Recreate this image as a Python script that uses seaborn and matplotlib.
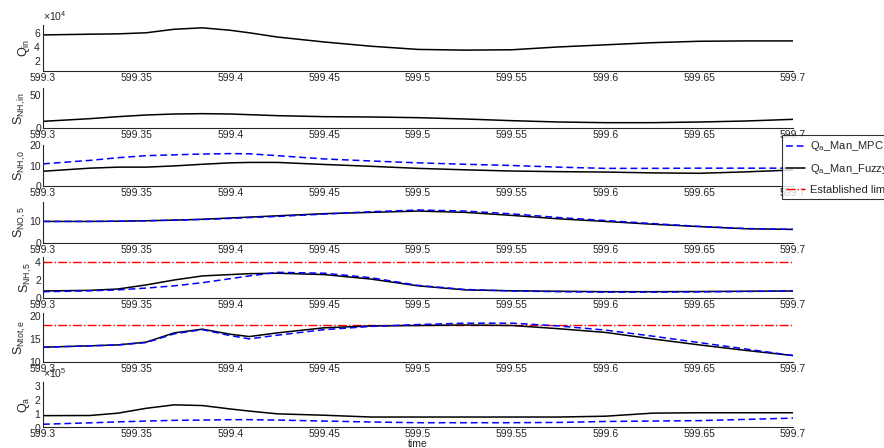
import matplotlib
matplotlib.use("Agg")
import matplotlib.pyplot as plt
import seaborn as sns
import numpy as np
from matplotlib.lines import Line2D

# ---------------- data ----------------
time = [599.30, 599.325, 599.34, 599.355, 599.37, 599.385, 599.40, 599.41, 599.425, 599.45,
        599.475, 599.50, 599.525, 599.55, 599.575, 599.60, 599.625, 599.65, 599.675, 599.70]

q_in = [56000, 57000, 57500, 59000, 64000, 66000, 62500, 59000, 53000, 46000,
        40000, 35500, 34500, 35000, 39000, 42000, 45000, 47000, 47500, 47500]

s_nh_in = [10, 14, 17, 19.5, 21, 21.5, 21, 20, 18.5, 17,
           16.5, 15.5, 13.5, 11, 9, 8, 8, 9, 10.5, 13]

s_nh0_mpc = [10.8, 12.5, 13.8, 14.8, 15.2, 15.6, 15.8, 15.7, 14.8, 13.2,
             12.2, 11.3, 10.6, 10.0, 9.2, 8.6, 8.6, 8.7, 8.7, 8.7]
s_nh0_fuzzy = [7.2, 8.7, 9.2, 9.2, 9.8, 10.6, 11.3, 11.5, 11.5, 10.5,
               9.6, 8.6, 7.9, 7.3, 7.0, 6.8, 6.4, 6.2, 6.9, 7.8]

s_no5_mpc = [10, 10, 10.1, 10.3, 10.6, 10.9, 11.4, 11.8, 12.3, 13.4,
             14.5, 15.3, 14.8, 13.5, 11.8, 10.4, 9.0, 7.7, 6.7, 6.3]
s_no5_fuzzy = [10, 10, 10.1, 10.3, 10.6, 11.0, 11.6, 12.0, 12.6, 13.6,
               14.2, 14.8, 14.2, 12.8, 11.2, 10.0, 8.7, 7.6, 6.6, 6.3]

s_nh5_mpc = [0.7, 0.8, 0.9, 1.1, 1.35, 1.7, 2.15, 2.45, 2.85, 2.75,
             2.25, 1.4, 0.95, 0.78, 0.7, 0.65, 0.65, 0.68, 0.72, 0.8]
s_nh5_fuzzy = [0.78, 0.85, 1.0, 1.45, 2.0, 2.45, 2.6, 2.7, 2.75, 2.6,
               2.1, 1.35, 0.9, 0.8, 0.75, 0.7, 0.7, 0.72, 0.75, 0.78]
s_nh5_limit = 4

s_ntot_mpc = [13.2, 13.5, 13.7, 14.2, 16.1, 17.0, 15.7, 15.0, 15.8, 17.0,
              17.7, 18.1, 18.4, 18.4, 17.8, 16.9, 15.6, 14.2, 12.8, 11.4]
s_ntot_fuzzy = [13.2, 13.5, 13.7, 14.3, 16.3, 17.1, 16.0, 15.5, 16.3, 17.4,
                17.8, 17.9, 18.0, 17.9, 17.2, 16.4, 15.0, 13.7, 12.5, 11.4]
s_ntot_limit = 18

q_a_mpc = [20000, 30000, 37000, 43000, 48000, 50000, 53000, 53000, 50000, 43000,
           36000, 31000, 31000, 31000, 33000, 40000, 43000, 46000, 55000, 64000]
q_a_fuzzy = [82000, 83000, 100000, 135000, 160000, 155000, 130000, 115000, 95000, 85000,
             72000, 72000, 72000, 72000, 72000, 78000, 100000, 103000, 103000, 103000]

xticks = [599.3, 599.35, 599.4, 599.45, 599.5, 599.55, 599.6, 599.65, 599.7]
xticklabels = ["599.3", "599.35", "599.4", "599.45", "599.5", "599.55", "599.6", "599.65", "599.7"]

ylabels = [r"Q$_{\rm in}$", r"S$_{\rm NH,in}$", r"S$_{\rm NH,0}$", r"S$_{\rm NO,5}$",
           r"S$_{\rm NH,5}$", r"S$_{\rm Ntot,e}$", r"Q$_{\rm a}$"]
yticks = [[20000, 40000, 60000], [0, 50], [0, 10, 20], [0, 10], [0, 2, 4], [10, 15, 20],
          [0, 100000, 200000, 300000]]
ylims = [(5000, 70000), (0, 60), (0, 20), (0, 19), (0, 4.55), (10, 20.6), (0, 325000)]

legend_labels = [r"Q$_{\rm a}$_Man_MPC", r"Q$_{\rm a}$_Man_Fuzzy", "Established limit"]

# ---------------- style ----------------
sns.set_style("white")
plt.rcParams["font.family"] = ["Liberation Sans", "DejaVu Sans"]
plt.rcParams["mathtext.fontset"] = "custom"
plt.rcParams["mathtext.rm"] = "Liberation Sans"
plt.rcParams["mathtext.it"] = "Liberation Sans:italic"

W, H = 884, 448
fig = plt.figure(figsize=(W / 100, H / 100), dpi=100)

# panel boxes (top, bottom) in pixels
boxes = [(25, 71), (88, 128), (145, 186), (202, 243), (257, 298), (313, 362), (382, 427)]
left_px, right_px = 43, 793

BLUE = "#0000ff"
BLACK = "#000000"
RED = "#ff0000"
GRAY = "#262626"

mpc_dash = (0, (4.5, 2.5))
axes = []
for (top, bot) in boxes:
    ax = fig.add_axes([left_px / W, 1 - bot / H, (right_px - left_px) / W, (bot - top) / H])
    axes.append(ax)


def draw(ax, y, color, ls, lw=1.1):
    sns.lineplot(x=time, y=y, ax=ax, color=color, linestyle=ls, linewidth=lw,
                 estimator=None, sort=False)


draw(axes[0], q_in, BLACK, "-")
draw(axes[1], s_nh_in, BLACK, "-")
draw(axes[2], s_nh0_mpc, BLUE, mpc_dash)
draw(axes[2], s_nh0_fuzzy, BLACK, "-")
draw(axes[3], s_no5_fuzzy, BLACK, "-")
draw(axes[3], s_no5_mpc, BLUE, mpc_dash)
axes[4].axhline(s_nh5_limit, color=RED, linestyle="-.", linewidth=1.0)
draw(axes[4], s_nh5_fuzzy, BLACK, "-")
draw(axes[4], s_nh5_mpc, BLUE, mpc_dash)
axes[5].axhline(s_ntot_limit, color=RED, linestyle="-.", linewidth=1.0)
draw(axes[5], s_ntot_fuzzy, BLACK, "-")
draw(axes[5], s_ntot_mpc, BLUE, mpc_dash)
draw(axes[6], q_a_fuzzy, BLACK, "-")
draw(axes[6], q_a_mpc, BLUE, mpc_dash)

for i, ax in enumerate(axes):
    ax.set_xlim(599.3, 599.7)
    ax.set_ylim(*ylims[i])
    ax.set_xticks(xticks)
    ax.set_xticklabels(xticklabels)
    ax.set_yticks(yticks[i])
    ax.set_ylabel(ylabels[i], fontsize=9, labelpad=1)
    ax.set_xlabel("")
    for s in ["top", "right"]:
        ax.spines[s].set_visible(False)
    for s in ["left", "bottom"]:
        ax.spines[s].set_color(GRAY)
        ax.spines[s].set_linewidth(0.8)
    ax.tick_params(direction="in", length=6, width=0.8, colors=GRAY, labelsize=7.5,
                   pad=1.5, labelcolor=GRAY)
    ax.patch.set_alpha(0)

for ax in (axes[0], axes[6]):
    ax.ticklabel_format(axis="y", style="sci", scilimits=(0, 0), useMathText=True)
    ax.yaxis.get_offset_text().set_fontsize(7.5)
    ax.yaxis.get_offset_text().set_color(GRAY)

axes[6].set_xlabel("time", fontsize=7.5, color=GRAY, labelpad=0)

# legend
handles = [Line2D([], [], color=BLUE, linestyle=mpc_dash, linewidth=1.1),
           Line2D([], [], color=BLACK, linestyle="-", linewidth=1.1),
           Line2D([], [], color=RED, linestyle="-.", linewidth=1.0)]
leg = fig.legend(handles, legend_labels, loc="upper left",
                 bbox_to_anchor=(782 / W, 1 - 135 / H), fontsize=8,
                 frameon=True, fancybox=False, handlelength=1.7, labelspacing=0.78,
                 borderpad=0.4, handletextpad=0.4, borderaxespad=0.0)
leg.get_frame().set_edgecolor(BLACK)
leg.get_frame().set_linewidth(0.8)

fig.savefig("out.png", dpi=100)
